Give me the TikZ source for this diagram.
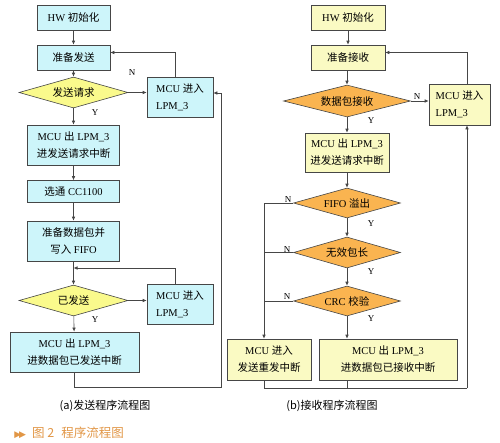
\documentclass[tikz,border=0pt]{standalone}
\usepackage{fontspec}
\usepackage{tikz}
\setmainfont{Liberation Serif}
\newfontfamily\cjk{Noto Sans CJK SC}
\newfontfamily\symfont{DejaVu Sans}
\usetikzlibrary{shapes.geometric,arrows.meta}
\definecolor{flowcyan}{RGB}{205,245,250}
\definecolor{flowyellow}{RGB}{250,250,140}
\definecolor{flowcream}{RGB}{250,250,195}
\definecolor{floworange}{RGB}{250,180,80}
\definecolor{flowline}{RGB}{70,70,70}
\definecolor{capbrown}{RGB}{225,150,70}

\begin{document}
\begin{tikzpicture}[x=1pt,y=-1pt,>={Latex[length=4pt,width=3.5pt]},
  every node/.style={font=\fontsize{10.5}{17}\selectfont},
  boxa/.style={draw=flowline,fill=flowcyan,inner sep=0pt,align=center},
  diaa/.style={draw=flowline,fill=flowyellow,diamond,aspect=3.5,inner sep=0pt},
  boxb/.style={draw=flowline,fill=flowcream,inner sep=0pt,align=center},
  diab/.style={draw=flowline,fill=floworange,diamond,aspect=3.5,inner sep=0pt},
  yn/.style={inner sep=0pt,font=\fontsize{9}{10}\selectfont},
  every path/.style={draw=flowline,line width=0.6pt}]
\useasboundingbox[draw=none] (0,0) rectangle (500,442);

% (a) send flow
\node[boxa,minimum width=73pt,minimum height=25pt] (hwa) at (73.5,17.5) {HW {\cjk 初始化}};
\node[boxa,minimum width=73pt,minimum height=25pt] (prepa) at (73.5,57.5) {\cjk 准备发送};
\node[diaa,minimum width=109pt,minimum height=31pt] (reqa) at (73.5,92.5) {\cjk 发送请求};
\node[boxa,align=left,minimum width=66pt,minimum height=40pt] (mcua1) at (180,97) {MCU {\cjk 进入}\\LPM\_3};
\node[boxa,minimum width=92pt,minimum height=40pt] (outa1) at (73.5,145) {MCU {\cjk 出} LPM\_3\\{\cjk 进发送请求中断}};
\node[boxa,minimum width=92pt,minimum height=22pt] (csa) at (73.5,191.5) {{\cjk 选通} CC1100};
\node[boxa,minimum width=92pt,minimum height=40pt] (fifoa) at (73.5,241) {{\cjk 准备数据包并}\\{\cjk 写入} FIFO};
\node[diaa,minimum width=109pt,minimum height=31pt] (senta) at (73.5,300.5) {\cjk 已发送};
\node[boxa,align=left,minimum width=66pt,minimum height=40pt] (mcua2) at (180,304) {MCU {\cjk 进入}\\LPM\_3};
\node[boxa,minimum width=129pt,minimum height=40pt] (donea) at (74.5,352) {MCU {\cjk 出} LPM\_3\\{\cjk 进数据包已发送中断}};

\node[yn] (na1) at (132,73) {N};
\node[yn] (ya1) at (95,113) {Y};
\node[yn] (ya2) at (95,320) {Y};

\coordinate (joina) at (73.5,268);
\coordinate (cornera) at (221,387);

\draw[->] (hwa) -- (prepa);
\draw[->] (prepa) -- (reqa);
\draw[->] (reqa) -- (outa1);
\draw[->] (reqa.east) -- (reqa.east -| mcua1.west);
\draw[->] ([xshift=-5pt]mcua1.north) |- ([yshift=5pt]prepa.east);
\draw[->] (outa1) -- (csa);
\draw[->] (csa) -- (fifoa);
\draw[->] (fifoa) -- (senta);
\draw[->] (senta) -- (donea);
\draw[->] (senta.east) -- (senta.east -| mcua2.west);
\draw[->] ([xshift=-5pt]mcua2.north) |- (joina);
\draw[->] (donea.south) |- (cornera) |- ([yshift=4pt]mcua1.east);

% (b) receive flow
\node[boxb,minimum width=74pt,minimum height=25pt] (hwb) at (348,17.5) {HW {\cjk 初始化}};
\node[boxb,minimum width=74pt,minimum height=25pt] (prepb) at (348,57.5) {\cjk 准备接收};
\node[diab,minimum width=127pt,minimum height=32pt] (recvb) at (347,101) {\cjk 数据包接收};
\node[boxb,align=left,minimum width=61pt,minimum height=41pt] (mcub1) at (459.5,104.5) {MCU {\cjk 进入}\\LPM\_3};
\node[boxb,minimum width=84pt,minimum height=39pt] (outb) at (347,152.5) {MCU {\cjk 出} LPM\_3\\{\cjk 进发送请求中断}};
\node[diab,minimum width=107pt,minimum height=30pt] (fifob) at (347,203) {FIFO {\cjk 溢出}};
\node[diab,minimum width=107pt,minimum height=31pt] (lenb) at (347,252.5) {\cjk 无效包长};
\node[diab,minimum width=107pt,minimum height=30pt] (crcb) at (347,301) {CRC {\cjk 校验}};
\node[boxb,minimum width=84pt,minimum height=41pt] (resendb) at (269,359.5) {MCU {\cjk 进入}\\{\cjk 发送重发中断}};
\node[boxb,minimum width=138pt,minimum height=41pt] (doneb) at (388,359.5) {MCU {\cjk 出} LPM\_3\\{\cjk 进数据包已接收中断}};

\node[yn] (nb1) at (417,97) {N};
\node[yn] (yb1) at (371,121) {Y};
\node[yn] (nb2) at (288,200) {N};
\node[yn] (yb2) at (371,224) {Y};
\node[yn] (nb3) at (287,250) {N};
\node[yn] (yb3) at (371,272) {Y};
\node[yn] (nb4) at (287,297) {N};
\node[yn] (yb4) at (371,319) {Y};

\coordinate (leftb) at ([xshift=-5pt]resendb.north);
\coordinate (cornerb) at (467,388);

\draw[->] (hwb) -- (prepb);
\draw[->] (prepb.south -| recvb.north) -- (recvb);
\draw[->] (recvb) -- (outb);
\draw[->] (recvb.east) -- (recvb.east -| mcub1.west);
\draw[->] (mcub1.north -| cornerb) |- ([yshift=5pt]prepb.east);
\draw[->] (outb) -- (fifob);
\draw[->] (fifob) -- (lenb);
\draw[->] (lenb) -- (crcb);
\draw[->] (crcb.south) -- (crcb.south |- doneb.north);
\draw[->] (fifob.west) -| (leftb);
\draw (lenb.west) -- (lenb.west -| leftb);
\draw (crcb.west) -- (crcb.west -| leftb);
\draw ([xshift=-5pt]resendb.south) |- (cornerb);
\draw (crcb.south |- doneb.south) -- (crcb.south |- cornerb);
\draw[->] (cornerb) -- (cornerb |- mcub1.south);

% captions
\node[font=\cjk\fontsize{11}{13}\selectfont] (capa) at (105,406) {(a)发送程序流程图};
\node[font=\cjk\fontsize{11}{13}\selectfont] (capb) at (332,406) {(b)接收程序流程图};
\node[anchor=west,text=capbrown,font=\fontsize{12.5}{14}\selectfont,inner sep=0pt] (fig) at (14,433)
  {{\symfont\fontsize{9}{10}\selectfont ▶\kern-2pt▶}\hspace{6pt}{\cjk 图 2\hspace{7pt}程序流程图}};
\end{tikzpicture}
\end{document}
